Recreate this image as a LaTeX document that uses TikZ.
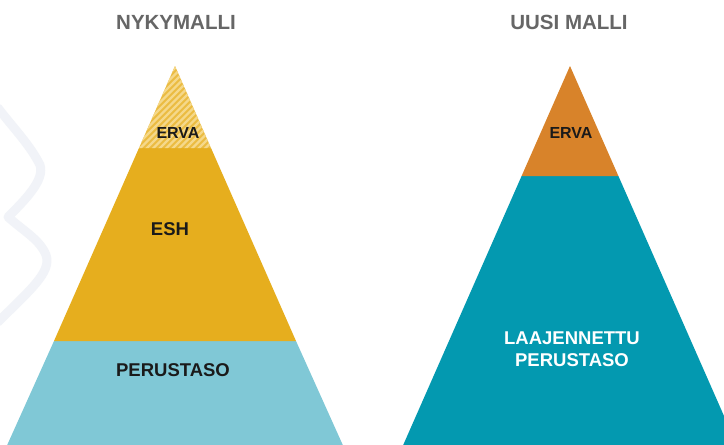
\documentclass[tikz,border=0pt]{standalone}
\usepackage{fontspec}
\setmainfont{Liberation Sans}
\definecolor{titlegray}{HTML}{666666}
\definecolor{labeldark}{HTML}{1A1A1A}
\definecolor{eshyellow}{HTML}{E6AE1E}
\definecolor{ervalight}{HTML}{EBBC42}
\definecolor{ervastripe}{HTML}{F5D88A}
\definecolor{baseblue}{HTML}{80C8D6}
\definecolor{ervaorange}{HTML}{D8832A}
\definecolor{wideteal}{HTML}{0399B0}
\definecolor{watermark}{HTML}{F1F3F8}
\tikzset{
  heading/.style={font=\fontsize{20.5}{24}\selectfont\bfseries, text=titlegray},
  tierlabel/.style={font=\fontsize{18.5}{22}\selectfont\bfseries, text=labeldark, align=center},
  toplabel/.style={font=\fontsize{16}{19}\selectfont\bfseries, text=labeldark},
}
\begin{document}
\begin{tikzpicture}[x=1pt,y=-1pt]
\useasboundingbox (0,0) rectangle (724,445);
\clip (0,0) rectangle (724,445);
\fill[white] (0,0) rectangle (724,445);

% faint background stroke
\draw[watermark, line width=9pt, line cap=round, line join=round]
  (-2,108) .. controls (15,130) and (30,145) .. (40,165)
  .. controls (45,180) and (25,200) .. (8,217)
  .. controls (25,232) and (40,240) .. (46,255)
  .. controls (52,272) and (30,290) .. (-2,322);

% current model: three tiers
\fill[baseblue] (54,341) -- (296,341) -- (342.8,445) -- (7.2,445) -- cycle;
\fill[eshyellow] (139,148) -- (211,148) -- (296,341) -- (54,341) -- cycle;
\begin{scope}
  \clip (175,66) -- (211,148) -- (139,148) -- cycle;
  \fill[ervalight] (130,60) rectangle (220,150);
  \foreach \k in {0,...,30}
    \draw[ervastripe, line width=2.2pt] (80+6.5*\k,150) -- ++(90,-90);
\end{scope}

% new model: two tiers
\fill[wideteal] (521.6,176) -- (618.4,176) -- (736.8,445) -- (403.2,445) -- cycle;
\fill[ervaorange] (570,66) -- (618.4,176) -- (521.6,176) -- cycle;

% headings
\node[heading] (oldtitle) at (176,22) {NYKYMALLI};
\node[heading] (newtitle) at (569,22) {UUSI MALLI};

% tier labels
\node[toplabel] (oldtop) at (178,133) {ERVA};
\node[tierlabel] (oldmid) at (170,229) {ESH};
\node[tierlabel] (oldbase) at (173,370) {PERUSTASO};
\node[toplabel] (newtop) at (571,133) {ERVA};
\node[tierlabel, text=white] (newbase) at (572,349) {LAAJENNETTU\\PERUSTASO};
\end{tikzpicture}
\end{document}
